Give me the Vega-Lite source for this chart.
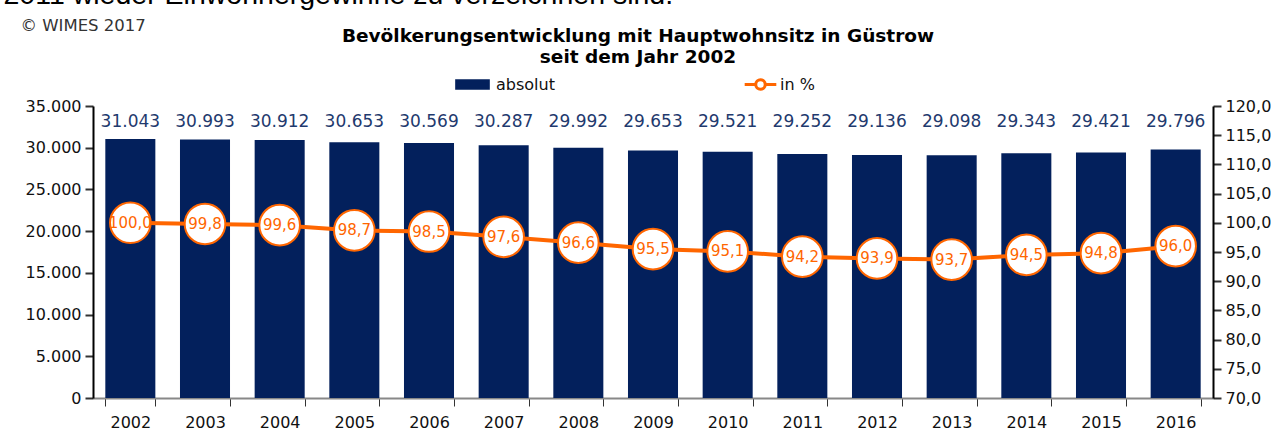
{
  "$schema": "https://vega.github.io/schema/vega-lite/v6.json",
  "width": 1120,
  "height": 292,
  "autosize": {"type": "none"},
  "padding": {"left": 93, "top": 106, "right": 71, "bottom": 39},
  "background": "white",
  "config": {
    "locale": {"number": {"decimal": ",", "thousands": ".", "grouping": [3], "currency": ["", " €"]}},
    "view": {"stroke": null},
    "font": "DejaVu Sans",
    "title": {"font": "DejaVu Sans", "fontWeight": "bold", "fontSize": 18.5, "color": "#000000", "lineHeight": 21}
  },
  "title": {
    "text": ["Bevölkerungsentwicklung mit Hauptwohnsitz in Güstrow", "seit dem Jahr 2002"],
    "anchor": "middle",
    "frame": "group",
    "dx": -15,
    "offset": -86
  },
  "data": {
    "values": [
      {"jahr": "2002", "absolut": 31043, "prozent": 100.0},
      {"jahr": "2003", "absolut": 30993, "prozent": 99.8},
      {"jahr": "2004", "absolut": 30912, "prozent": 99.6},
      {"jahr": "2005", "absolut": 30653, "prozent": 98.7},
      {"jahr": "2006", "absolut": 30569, "prozent": 98.5},
      {"jahr": "2007", "absolut": 30287, "prozent": 97.6},
      {"jahr": "2008", "absolut": 29992, "prozent": 96.6},
      {"jahr": "2009", "absolut": 29653, "prozent": 95.5},
      {"jahr": "2010", "absolut": 29521, "prozent": 95.1},
      {"jahr": "2011", "absolut": 29252, "prozent": 94.2},
      {"jahr": "2012", "absolut": 29136, "prozent": 93.9},
      {"jahr": "2013", "absolut": 29098, "prozent": 93.7},
      {"jahr": "2014", "absolut": 29343, "prozent": 94.5},
      {"jahr": "2015", "absolut": 29421, "prozent": 94.8},
      {"jahr": "2016", "absolut": 29796, "prozent": 96.0}
    ]
  },
  "encoding": {
    "x": {
      "field": "jahr",
      "type": "ordinal",
      "scale": {"paddingInner": 0.33, "paddingOuter": 0.165},
      "axis": {
        "title": "2011 wieder Einwohnergewinne zu verzeichnen sind.",
        "titleFont": "Liberation Sans",
        "titleFontSize": 28.5,
        "titleFontWeight": "normal",
        "titleColor": "#000000",
        "titleAlign": "left",
        "titleBaseline": "alphabetic",
        "titleX": -90,
        "titleY": -395,
        "labelAngle": 0,
        "labelFontSize": 16,
        "labelColor": "#111111",
        "labelPadding": 8,
        "domainColor": "#888888",
        "domainWidth": 2,
        "tickColor": "#333333",
        "tickSize": 8,
        "tickBand": "extent"
      }
    }
  },
  "layer": [
    {
      "encoding": {
        "y": {
          "field": "absolut",
          "type": "quantitative",
          "scale": {"domain": [0, 35000], "nice": false},
          "axis": {
            "title": "© WIMES 2017",
            "titleAngle": 0,
            "titleX": -73,
            "titleY": -76,
            "titleAlign": "left",
            "titleBaseline": "alphabetic",
            "titleFontWeight": "normal",
            "titleFontSize": 16.5,
            "titleColor": "#333333",
            "titleFont": "DejaVu Sans",
            "format": ",d",
            "values": [0, 5000, 10000, 15000, 20000, 25000, 30000, 35000],
            "grid": false,
            "labelFontSize": 16,
            "labelColor": "#111111",
            "labelPadding": 4,
            "domainColor": "#000000",
            "domainWidth": 2,
            "tickColor": "#333333",
            "tickWidth": 2,
            "tickSize": 8
          }
        }
      },
      "layer": [
        {
          "mark": {"type": "bar"},
          "encoding": {
            "fill": {
              "datum": "absolut",
              "type": "nominal",
              "scale": {"range": ["#03205c"]},
              "legend": {
                "title": null,
                "orient": "none",
                "legendX": 362,
                "legendY": -39,
                "symbolType": "M-1,-0.3H1V0.3H-1Z",
                "symbolSize": 1200,
                "symbolStrokeWidth": 0,
                "labelFontSize": 16,
                "labelColor": "#111111",
                "labelOffset": 6
              }
            }
          }
        },
        {
          "mark": {"type": "text", "baseline": "middle", "fontSize": 17, "color": "#1f3a6e"},
          "encoding": {
            "y": {"datum": 33080},
            "text": {"field": "absolut", "type": "quantitative", "format": ",d"}
          }
        }
      ]
    },
    {
      "encoding": {
        "y": {
          "field": "prozent",
          "type": "quantitative",
          "scale": {"domain": [70, 120], "nice": false},
          "axis": {
            "orient": "right",
            "title": null,
            "format": ".1f",
            "values": [70, 75, 80, 85, 90, 95, 100, 105, 110, 115, 120],
            "grid": false,
            "labelFontSize": 16,
            "labelColor": "#111111",
            "labelPadding": 4,
            "domainColor": "#000000",
            "domainWidth": 2,
            "tickColor": "#333333",
            "tickWidth": 2,
            "tickSize": 8
          }
        }
      },
      "layer": [
        {
          "mark": {"type": "line", "strokeWidth": 4},
          "encoding": {
            "stroke": {
              "datum": "in %",
              "type": "nominal",
              "scale": {"range": ["#ff6600"]},
              "legend": {
                "title": null,
                "orient": "none",
                "legendX": 650,
                "legendY": -39,
                "symbolType": "M-1,0H-0.3M0.3,0H1M0.3,0A0.3,0.3,0,1,1,-0.3,0A0.3,0.3,0,1,1,0.3,0",
                "symbolSize": 1000,
                "symbolStrokeWidth": 3,
                "symbolFillColor": "white",
                "labelFontSize": 16,
                "labelColor": "#111111",
                "labelOffset": 2
              }
            }
          }
        },
        {
          "mark": {"type": "point", "shape": "circle", "filled": true, "fill": "white", "stroke": "#ff6600", "strokeWidth": 2, "size": 1650, "opacity": 1}
        },
        {
          "mark": {"type": "text", "fontSize": 15, "color": "#ff6600", "baseline": "middle"},
          "encoding": {
            "text": {"field": "prozent", "type": "quantitative", "format": ".1f"}
          }
        }
      ]
    }
  ],
  "resolve": {"scale": {"y": "independent", "fill": "independent", "stroke": "independent"}}
}
